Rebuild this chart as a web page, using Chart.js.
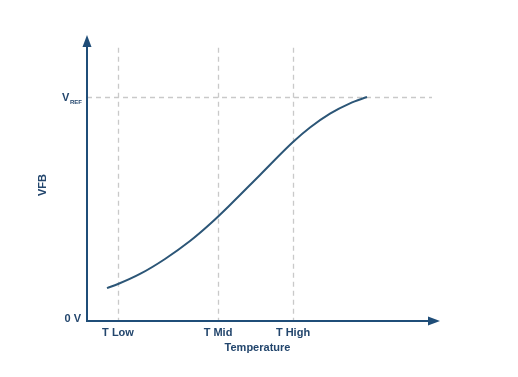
<!DOCTYPE html>
<html>
<head>
<meta charset="utf-8">
<script src="https://cdn.jsdelivr.net/npm/chart.js@4"></script>
<style>
  html, body { margin: 0; padding: 0; background: #fff; }
  #wrap { width: 518px; height: 377px; }
</style>
</head>
<body>
<div id="wrap"><canvas id="chart" width="518" height="377"></canvas></div>
<script>
// curve (temperature in arbitrary units, VFB as fraction of VREF)
const tempPoints = [20, 31, 53, 78, 103, 123, 143, 173, 206, 223, 243, 263, 280];
const vfbValues = [0.147, 0.165, 0.210, 0.277, 0.357, 0.433, 0.518, 0.652, 0.799, 0.864, 0.926, 0.972, 1.0];

const tickTemps = [31, 131, 206];
const tickLabels = ['T Low', 'T Mid', 'T High'];
const vrefValue = 1.0;
const xMax = 353;
const yMax = 1.277;

const axisColor = '#1f4d78';
const textColor = '#23466d';
const dashColor = '#c9c9c9';
const font = 'bold 11px "Liberation Sans", Arial, sans-serif';

const axesPlugin = {
    id: 'axesPlugin',
    beforeDatasetsDraw(chart) {
        const ctx = chart.ctx;
        const xs = chart.scales.x;
        const ys = chart.scales.y;
        const x0 = xs.getPixelForValue(0);
        const y0 = ys.getPixelForValue(0);
        const yVref = ys.getPixelForValue(vrefValue);
        ctx.save();
        ctx.strokeStyle = dashColor;
        ctx.lineWidth = 1.3;
        ctx.setLineDash([5, 4]);
        // vertical guides
        tickTemps.forEach(t => {
            const px = Math.round(xs.getPixelForValue(t)) + 0.5;
            ctx.beginPath();
            ctx.moveTo(px, ys.getPixelForValue(1.22));
            ctx.lineTo(px, y0);
            ctx.stroke();
        });
        // VREF guide
        ctx.beginPath();
        ctx.moveTo(x0, Math.round(yVref) + 0.5);
        ctx.lineTo(xs.getPixelForValue(345), Math.round(yVref) + 0.5);
        ctx.stroke();
        ctx.restore();
    },
    afterDraw(chart) {
        const ctx = chart.ctx;
        const xs = chart.scales.x;
        const ys = chart.scales.y;
        const x0 = xs.getPixelForValue(0);
        const y0 = ys.getPixelForValue(0);
        const xEnd = xs.getPixelForValue(xMax);
        const yTop = ys.getPixelForValue(yMax);
        ctx.save();
        ctx.strokeStyle = axisColor;
        ctx.fillStyle = axisColor;
        ctx.lineWidth = 2;
        ctx.setLineDash([]);
        // y axis + arrow
        ctx.beginPath();
        ctx.moveTo(x0, y0 + 1);
        ctx.lineTo(x0, yTop + 10);
        ctx.stroke();
        ctx.beginPath();
        ctx.moveTo(x0, yTop);
        ctx.lineTo(x0 - 4.5, yTop + 12);
        ctx.lineTo(x0 + 4.5, yTop + 12);
        ctx.closePath();
        ctx.fill();
        // x axis + arrow
        ctx.beginPath();
        ctx.moveTo(x0 - 1, y0);
        ctx.lineTo(xEnd - 10, y0);
        ctx.stroke();
        ctx.beginPath();
        ctx.moveTo(xEnd, y0);
        ctx.lineTo(xEnd - 12, y0 - 4.5);
        ctx.lineTo(xEnd - 12, y0 + 4.5);
        ctx.closePath();
        ctx.fill();

        // labels
        ctx.fillStyle = textColor;
        ctx.font = font;
        ctx.textAlign = 'center';
        ctx.textBaseline = 'top';
        tickTemps.forEach((t, i) => {
            ctx.fillText(tickLabels[i], xs.getPixelForValue(t), y0 + 6);
        });
        ctx.fillText('Temperature', (xs.getPixelForValue(tickTemps[1]) + xs.getPixelForValue(tickTemps[2])) / 2 + 2, y0 + 21);

        ctx.textAlign = 'right';
        ctx.textBaseline = 'alphabetic';
        ctx.fillText('0 V', x0 - 6, y0 + 1);

        // V with REF subscript
        const yV = ys.getPixelForValue(vrefValue);
        ctx.textAlign = 'left';
        ctx.fillText('V', 62, yV + 4);
        ctx.font = 'bold 6px "Liberation Sans", Arial, sans-serif';
        ctx.fillText('REF', 70, yV + 7);

        // rotated axis title
        ctx.font = font;
        ctx.translate(43, (y0 + yTop) / 2 + 7);
        ctx.rotate(-Math.PI / 2);
        ctx.textAlign = 'center';
        ctx.textBaseline = 'middle';
        ctx.fillText('VFB', 0, 0);
        ctx.restore();
    }
};

new Chart(document.getElementById('chart'), {
    type: 'line',
    data: {
        datasets: [{
            label: 'VFB',
            data: tempPoints.map((t, i) => ({ x: t, y: vfbValues[i] })),
            borderColor: '#2c5677',
            borderWidth: 2,
            pointRadius: 0,
            fill: false,
            cubicInterpolationMode: 'monotone'
        }]
    },
    options: {
        responsive: false,
        animation: false,
        layout: { padding: { left: 87, right: 78, top: 35, bottom: 56 } },
        plugins: { legend: { display: false }, tooltip: { enabled: false } },
        scales: {
            x: { type: 'linear', min: 0, max: xMax, display: false },
            y: { type: 'linear', min: 0, max: yMax, display: false }
        }
    },
    plugins: [axesPlugin]
});
</script>
</body>
</html>
